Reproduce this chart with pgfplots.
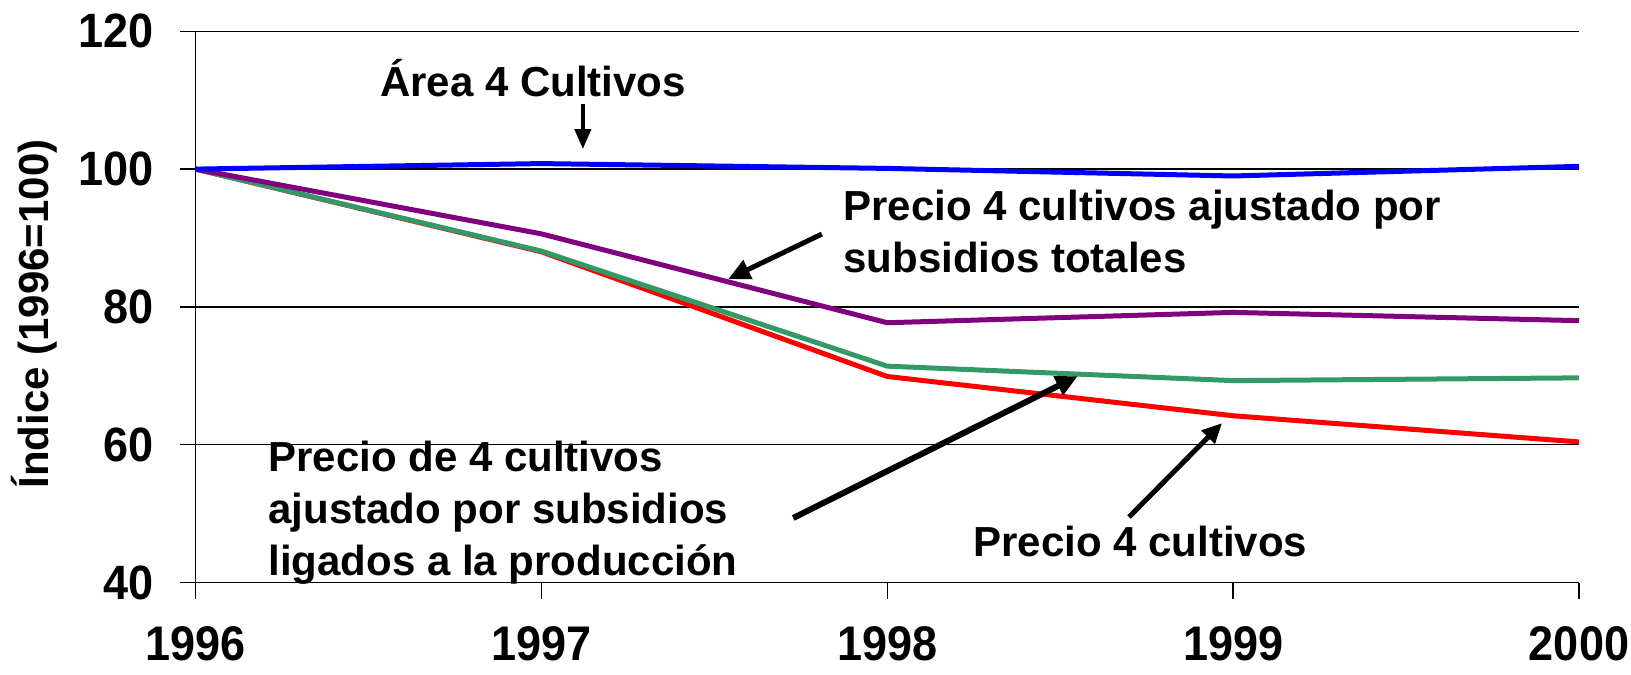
\documentclass[border=0pt]{standalone}
\usepackage{fontspec}
\setmainfont{Liberation Sans}
\usepackage{graphicx}
\usepackage{pgfplots}
\pgfplotsset{compat=1.18}
\usetikzlibrary{arrows.meta}

\definecolor{serieblue}{RGB}{0,0,255}
\definecolor{seriepurple}{RGB}{128,0,128}
\definecolor{seriegreen}{RGB}{51,153,102}
\definecolor{seriered}{RGB}{255,0,0}

\newcommand{\annot}{\fontsize{21}{26}\selectfont\bfseries}

\begin{document}
\begin{tikzpicture}
\begin{axis}[
  at={(0,0)}, anchor=south west,
  scale only axis,
  width=691.75pt, height=275.6pt,
  xmin=1996, xmax=2000, ymin=40, ymax=120,
  xtick={1996,1997,1998,1999,2000},
  ytick={40,60,80,100,120},
  axis x line*=bottom, axis y line*=left,
  axis line style={black, line width=0.75pt},
  tick style={black, line width=0.75pt},
  tick align=outside, major tick length=8pt,
  ymajorgrids, grid style={black, line width=0.75pt},
  /pgf/number format/assume math mode=true,
  /pgf/number format/1000 sep={},
  xticklabel={\scalebox{1}[1.08]{\pgfmathprintnumber{\tick}}},
  yticklabel={\scalebox{1}[1.07]{\pgfmathprintnumber{\tick}}},
  xticklabel style={font=\fontsize{22.5}{26}\selectfont\bfseries, inner sep=0pt, yshift=-14pt},
  yticklabel style={font=\fontsize{22.5}{26}\selectfont\bfseries, inner sep=3pt, xshift=-10pt},
  ylabel={Índice (1996=100)},
  ylabel style={font=\fontsize{21}{26}\selectfont\bfseries, at={(axis description cs:-0.1167,0.487)}, anchor=center},
  clip=false,
]
\addplot[seriered, line width=2.5pt] coordinates {(1996,100) (1997,88.0) (1998,69.9) (1999,64.2) (2000,60.4)};
\addplot[seriegreen, line width=2.5pt] coordinates {(1996,100) (1997,88.1) (1998,71.4) (1999,69.3) (2000,69.7)};
\addplot[seriepurple, line width=2.5pt] coordinates {(1996,100) (1997,90.6) (1998,77.7) (1999,79.2) (2000,78.0)};
\addplot[serieblue, line width=2.5pt] coordinates {(1996,100) (1997,100.8) (1998,100.1) (1999,99.0) (2000,100.4)};

% annotations
\node[font=\annot] at (axis cs:1996.976,113.2) {Área 4 Cultivos};
\draw[line width=2pt, -{Triangle[length=10pt,width=8pt]}] (axis cs:1997.120,109.4) -- (axis cs:1997.120,102.9);

\node[font=\annot, align=left, anchor=west, inner sep=0pt] at (axis cs:1997.872,91.0)
  {Precio 4 cultivos ajustado por\\subsidios totales};
\draw[line width=2.5pt, -{Triangle[length=11pt,width=10pt]}] (axis cs:1997.811,90.57) -- (axis cs:1997.540,84.04);

\node[font=\annot, align=left, anchor=west, inner sep=0pt] at (axis cs:1996.210,50.1)
  {Precio de 4 cultivos\\ajustado por subsidios\\ligados a la producción};
\draw[line width=3pt, -{Triangle[length=11pt,width=10pt]}] (axis cs:1997.728,49.36) -- (axis cs:1998.551,69.96);

\node[font=\annot, anchor=west, inner sep=0pt] at (axis cs:1998.248,46.0) {Precio 4 cultivos};
\draw[line width=2.5pt, -{Triangle[length=10pt,width=9pt]}] (axis cs:1998.699,49.5) -- (axis cs:1998.968,63.14);
\end{axis}
\pgfresetboundingbox
\useasboundingbox (-97.75pt,-45.75pt) rectangle (717.75pt,291.25pt);
\end{tikzpicture}
\end{document}
